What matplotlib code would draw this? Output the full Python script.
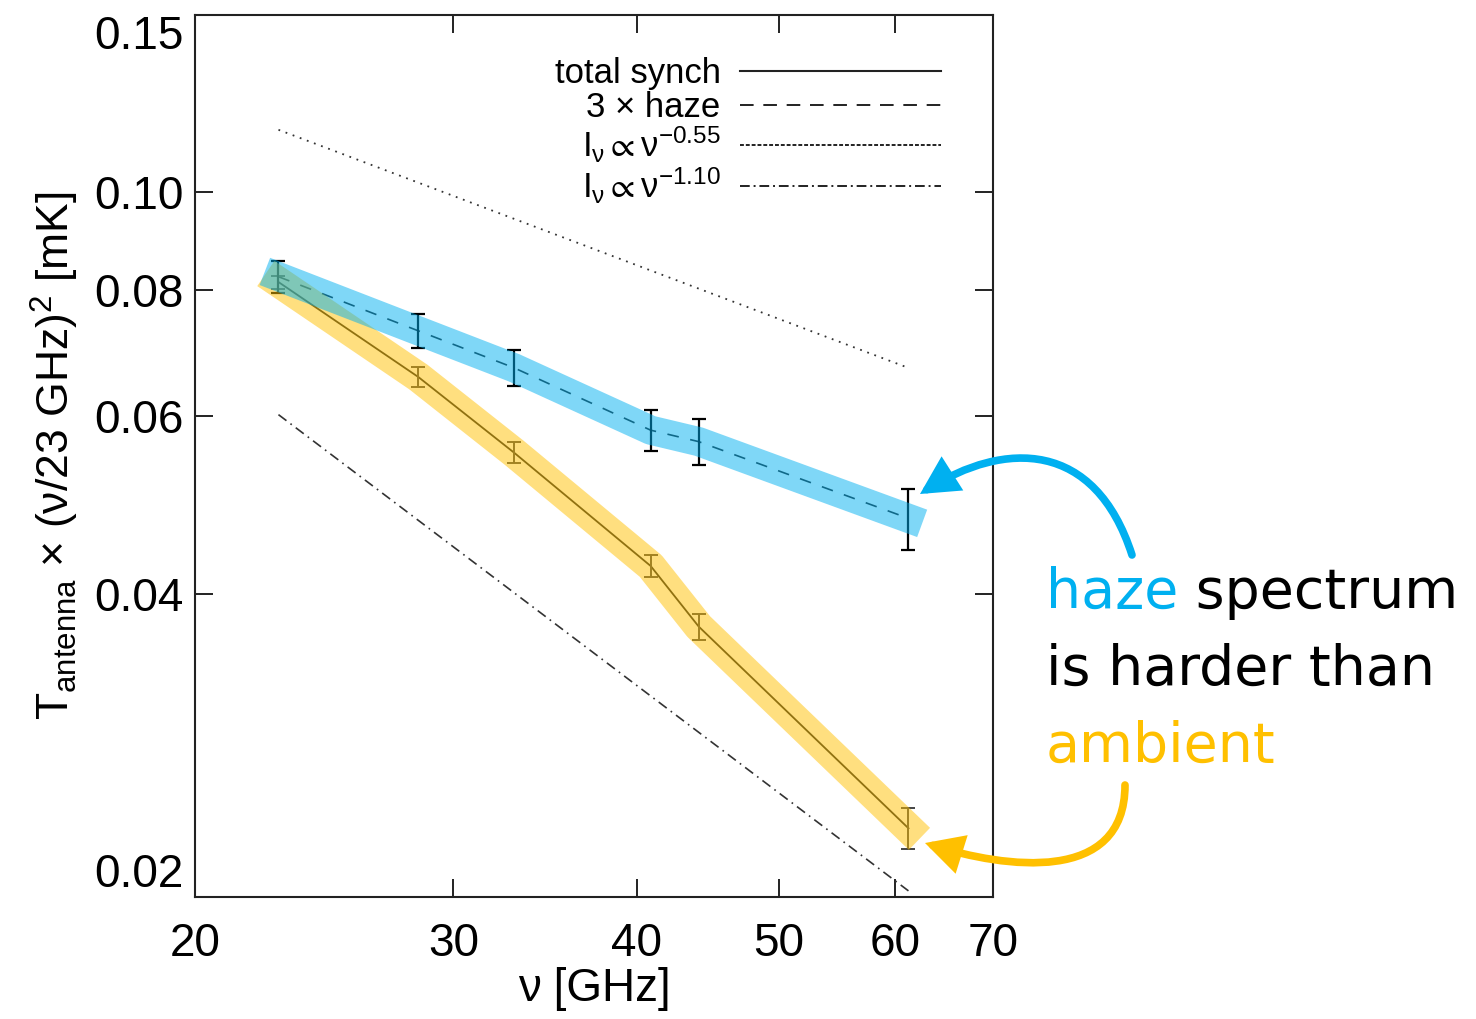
import matplotlib
matplotlib.use("Agg")
import matplotlib.pyplot as plt
from matplotlib.path import Path
from matplotlib.patches import FancyArrowPatch, ArrowStyle

# ---- data -------------------------------------------------------------
nu = [22.8, 28.4, 33.0, 40.9, 44.1, 61.3]                      # GHz
haze = [0.0825, 0.0729, 0.0670, 0.0581, 0.0566, 0.0475]        # 3 x haze
haze_err = [0.0031, 0.0028, 0.0028, 0.0027, 0.0030, 0.0033]
synch = [0.0815, 0.0656, 0.0552, 0.0426, 0.0371, 0.0234]       # total synch
synch_err = [0.0012, 0.0015, 0.0013, 0.0011, 0.0011, 0.0011]

# reference power laws: value at the first frequency and spectral index
plaw_nu = [22.8, 61.3]
plaw_amp = [0.1154, 0.0602]
plaw_index = [-0.55, -1.10]

xticks = [20, 30, 40, 50, 60, 70]
yticks = [0.02, 0.04, 0.06, 0.08, 0.10, 0.15]
ytick_labels = ["0.02", "0.04", "0.06", "0.08", "0.10", "0.15"]

HAZE_BLUE = "#00B0F0"
AMB_GOLD = "#FFC000"

plt.rcParams["font.family"] = ["Liberation Sans", "DejaVu Sans"]
plt.rcParams["mathtext.fontset"] = "custom"
plt.rcParams["mathtext.rm"] = "Liberation Sans"
plt.rcParams["mathtext.it"] = "Liberation Sans:italic"
plt.rcParams["mathtext.sf"] = "Liberation Sans"

W, H = 1476, 1019
fig = plt.figure(figsize=(W / 100, H / 100), dpi=100)
ax = fig.add_axes([195 / W, 1 - 897 / H, (993 - 195) / W, (897 - 15) / H])

ax.set_xscale("log")
ax.set_yscale("log")
ax.set_xlim(20, 70)
ax.set_ylim(0.02, 0.15)

# power-law guide lines
def plaw(amp, idx):
    return [amp * (n / plaw_nu[0]) ** idx for n in plaw_nu]

ax.plot(plaw_nu, plaw(plaw_amp[0], plaw_index[0]), color="#333333",
        lw=1.3, linestyle=(0, (1, 3.2)), zorder=2)
ax.plot(plaw_nu, plaw(plaw_amp[1], plaw_index[1]), color="#333333",
        lw=1.2, linestyle=(0, (6, 3, 1, 3)), zorder=2)

# measured spectra
ax.plot(nu, synch, color="#222222", lw=1.3, zorder=3)
ax.plot(nu, haze, color="#222222", lw=1.2, linestyle=(0, (7, 7)), zorder=3)
ax.errorbar(nu, synch, yerr=synch_err, fmt="none", ecolor="#444444",
            elinewidth=1.4, capsize=5, capthick=1.4, zorder=3)
ax.errorbar(nu, haze, yerr=haze_err, fmt="none", ecolor="black",
            elinewidth=1.6, capsize=5, capthick=1.6, zorder=3)

# highlight bands
ax.plot(nu, synch, color=AMB_GOLD, alpha=0.5, lw=22,
        solid_capstyle="projecting", solid_joinstyle="round", zorder=5)
ax.plot(nu, haze, color=HAZE_BLUE, alpha=0.5, lw=21,
        solid_capstyle="projecting", solid_joinstyle="round", zorder=5)

# legend entries
leg_handles = [
    plt.Line2D([], [], color="#222222", lw=1.5),
    plt.Line2D([], [], color="#222222", lw=1.4, linestyle=(0, (7, 5))),
    plt.Line2D([], [], color="#222222", lw=1.4, linestyle=(0, (2, 1))),
    plt.Line2D([], [], color="#222222", lw=1.4, linestyle=(0, (5, 2, 1, 2))),
]
leg_labels = [
    "total synch",
    "3 × haze",
    r"$\mathregular{I_\nu \propto \nu^{-0.55}}$",
    r"$\mathregular{I_\nu \propto \nu^{-1.10}}$",
]
ax.legend(leg_handles, leg_labels, loc="upper right",
          bbox_to_anchor=(0.935, 0.952), frameon=False, markerfirst=False,
          fontsize=25, handlelength=5.8, handletextpad=0.55,
          labelspacing=0.02, borderpad=0, borderaxespad=0)

# axes styling
for s in ax.spines.values():
    s.set_color("#222222")
    s.set_linewidth(1.5)
ax.set_xticks(xticks)
ax.set_xticklabels([str(t) for t in xticks])
ax.set_yticks(yticks)
ax.set_yticklabels(ytick_labels)
ax.minorticks_off()
ax.tick_params(which="major", direction="in", length=13, width=1.4,
               top=True, right=True, labelsize=33, colors="#222222",
               labelcolor="black")
ax.tick_params(axis="x", pad=18)
ax.tick_params(axis="y", pad=8)
ymaj = ax.yaxis.get_major_ticks()
ymaj[0].label1.set_verticalalignment("bottom")
ymaj[-1].label1.set_verticalalignment("top")

ax.set_xlabel("ν [GHz]", fontsize=33, labelpad=1)
ax.set_ylabel(r"$\mathregular{T_{antenna}}$ × (ν/23 GHz)$\mathregular{^2}$ [mK]",
              fontsize=32, labelpad=10)

# ---- callout text and arrows (figure pixel space) ----------------------
ov = fig.add_axes([0, 0, 1, 1])
ov.set_xlim(0, W)
ov.set_ylim(H, 0)
ov.axis("off")

tf = dict(fontsize=40, family="DejaVu Sans", va="baseline", ha="left")
t1 = ov.text(1046, 608, "haze", color=HAZE_BLUE, **tf)
ov.annotate(" spectrum", xy=(1, 0), xycoords=t1, va="bottom", ha="left",
            fontsize=40, family="DejaVu Sans", color="black")
ov.text(1046, 685, "is harder than", color="black", **tf)
ov.text(1046, 762, "ambient", color=AMB_GOLD, **tf)

astyle = ArrowStyle("-|>", head_length=0.95, head_width=0.5)
blue_path = Path([(1132, 555), (1095, 440), (1005, 440), (920, 494)],
                 [Path.MOVETO, Path.CURVE4, Path.CURVE4, Path.CURVE4])
gold_path = Path([(1125, 785), (1125, 885), (1005, 868), (925, 843)],
                 [Path.MOVETO, Path.CURVE4, Path.CURVE4, Path.CURVE4])
for p, c in [(blue_path, HAZE_BLUE), (gold_path, AMB_GOLD)]:
    ov.add_patch(FancyArrowPatch(path=p, arrowstyle=astyle, mutation_scale=20,
                                 color=c, lw=5.5, joinstyle="miter"))

fig.savefig("out.png", dpi=100, facecolor="white")
